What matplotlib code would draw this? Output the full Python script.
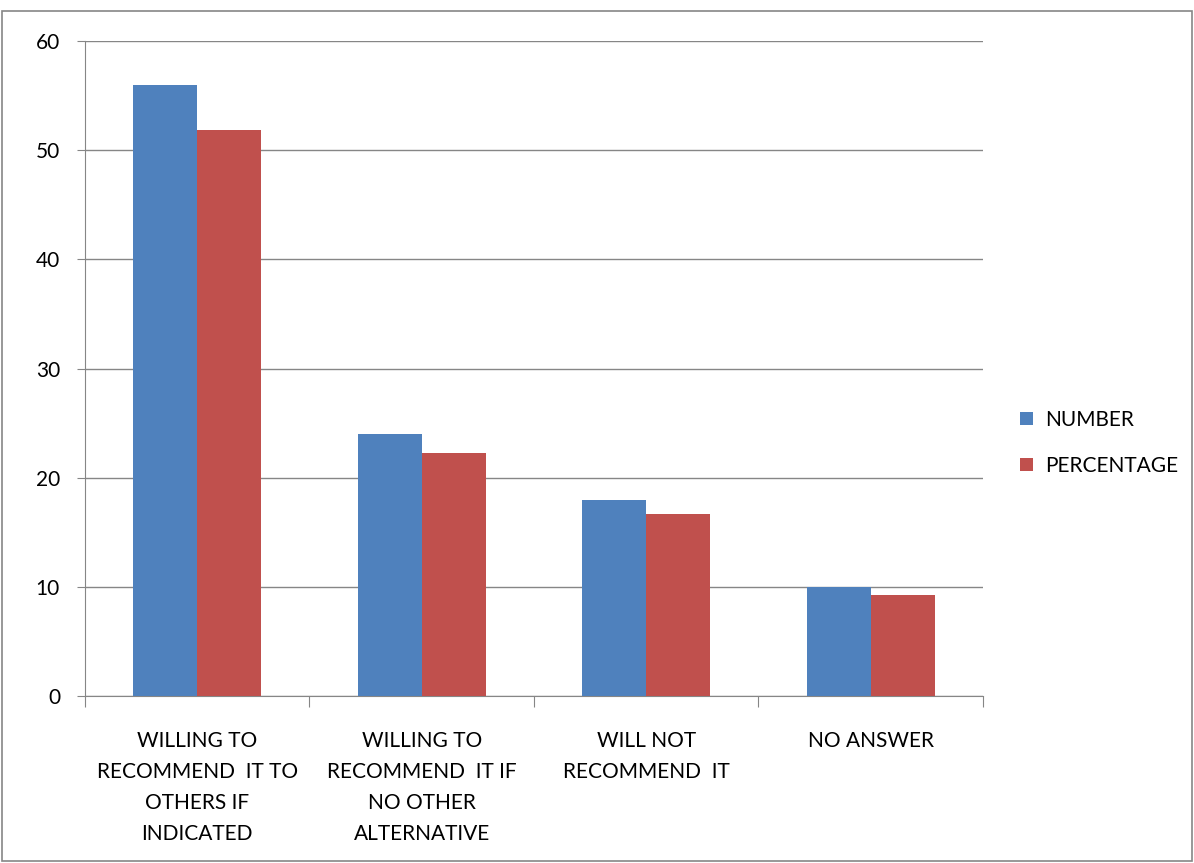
import matplotlib
matplotlib.use("Agg")
import matplotlib.pyplot as plt
import numpy as np
from matplotlib.patches import Rectangle

# data
categories = ["WILLING TO\nRECOMMEND  IT TO\nOTHERS IF\nINDICATED",
              "WILLING TO\nRECOMMEND  IT IF\nNO OTHER\nALTERNATIVE",
              "WILL NOT\nRECOMMEND  IT",
              "NO ANSWER"]
number = [56, 24, 18, 10]
percentage = [51.85, 22.22, 16.67, 9.26]
yticks = [0, 10, 20, 30, 40, 50, 60]

plt.rcParams['font.family'] = ['Lato', 'DejaVu Sans']

fig = plt.figure(figsize=(11.94, 8.63), dpi=100)
ax = fig.add_axes([0.0712, 0.1935, 0.752, 0.759])

x = np.arange(len(categories))
w = 0.285
ax.bar(x - w / 2, number, w, color='#4F81BD', label='NUMBER', zorder=3)
ax.bar(x + w / 2, percentage, w, color='#C0504D', label='PERCENTAGE', zorder=3)

ax.set_xlim(-0.5, len(categories) - 0.5)
ax.set_ylim(0, 60)
ax.set_yticks(yticks)
ax.yaxis.grid(True, color='#868686', linewidth=1, zorder=0)

# category boundaries as ticks, labels centered under groups
ax.set_xticks(np.arange(len(categories) + 1) - 0.5)
ax.set_xticklabels([])
ax.set_xticks(x, minor=True)
ax.set_xticklabels(categories, minor=True, fontsize=15, linespacing=1.7, va='top')
ax.tick_params(axis='x', which='minor', length=0, pad=25)
ax.tick_params(axis='x', which='major', length=8, color='#868686')
ax.tick_params(axis='y', length=6, color='#868686', labelsize=15, pad=12)

for s in ['top', 'right']:
    ax.spines[s].set_visible(False)
for s in ['left', 'bottom']:
    ax.spines[s].set_color('#868686')

h, l = ax.get_legend_handles_labels()
fig.legend(h, l, loc='center left', bbox_to_anchor=(1020 / 1194, 1 - 443 / 863),
           frameon=False, fontsize=15, handlelength=0.6, handleheight=0.6,
           labelspacing=1.25, handletextpad=0.6, borderaxespad=0, borderpad=0)

# outer border of the chart area
fig.patches.append(Rectangle((0.002, 0.002), 0.996, 0.985, transform=fig.transFigure,
                             fill=False, edgecolor='#868686', linewidth=1.2))

plt.savefig('out.png', dpi=100)
